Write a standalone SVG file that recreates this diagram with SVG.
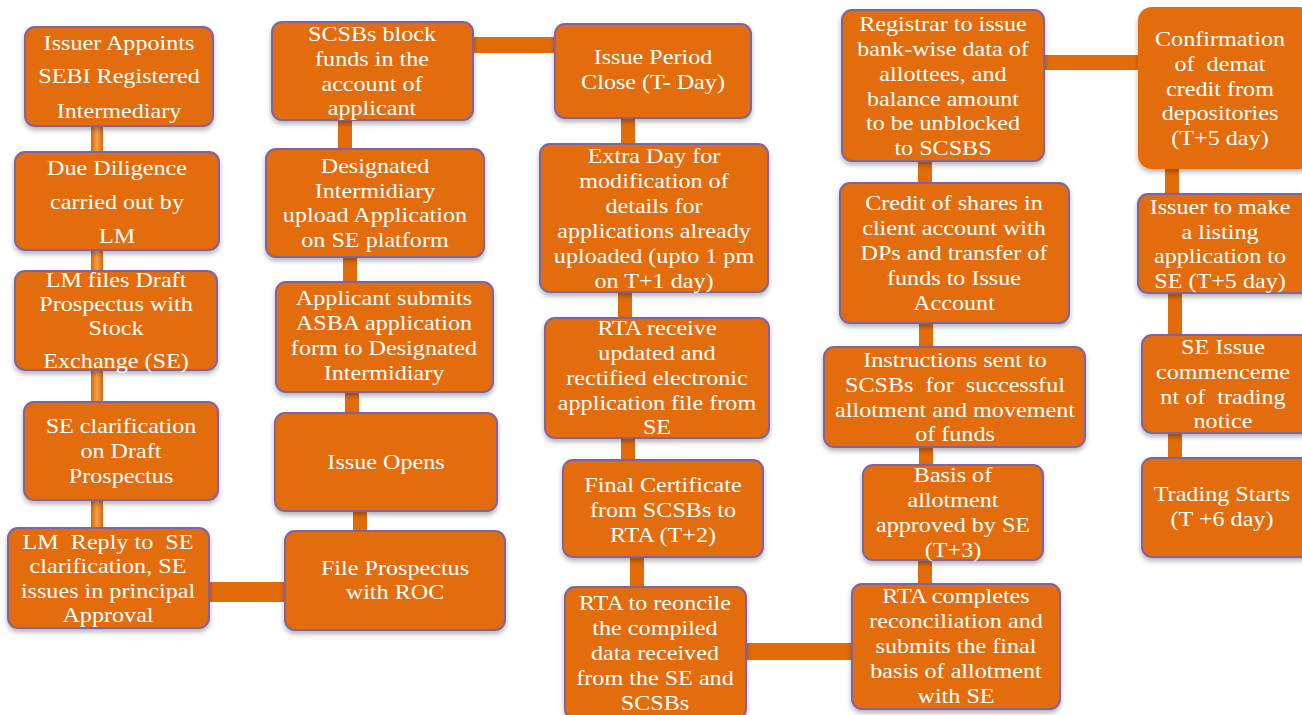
<svg xmlns="http://www.w3.org/2000/svg" width="1302" height="715" viewBox="0 0 1302 715">
<defs>
<linearGradient id="gv" x1="0" y1="0" x2="1" y2="0">
<stop offset="0" stop-color="#D8660C"/><stop offset="0.5" stop-color="#F7A24A"/><stop offset="1" stop-color="#D8660C"/>
</linearGradient>
<filter id="sh" x="-10%" y="-10%" width="120%" height="125%">
<feDropShadow dx="0" dy="3" stdDeviation="2.5" flood-color="#000" flood-opacity="0.3"/>
</filter>
</defs>
<style>
.box{fill:#E36C0A;stroke:#8064A2;stroke-width:2;filter:url(#sh)}
.nb{fill:#E36C0A;stroke:none;filter:url(#sh)}
.c{fill:#E36C0A}
.g{fill:url(#gv)}
text{font-family:"Liberation Serif","Times New Roman",serif;font-size:21px;fill:#fff;text-anchor:middle;white-space:pre}
</style>
<rect width="1302" height="715" fill="#fff"/>
<g id="connectors">
<rect class="g" x="91" y="124" width="12" height="30"/>
<rect class="g" x="91" y="248" width="12" height="25"/>
<rect class="g" x="91" y="368" width="12" height="36"/>
<rect class="g" x="91" y="498" width="12" height="32"/>
<rect class="c" x="207" y="582" width="80" height="20"/>
<rect class="c" x="338" y="118" width="14" height="33"/>
<rect class="c" x="343" y="255" width="14" height="29"/>
<rect class="c" x="345" y="390" width="14" height="25"/>
<rect class="c" x="353" y="509" width="14" height="24"/>
<rect class="c" x="471" y="37" width="86" height="16"/>
<rect class="c" x="621" y="116" width="14" height="30"/>
<rect class="c" x="618" y="290" width="14" height="30"/>
<rect class="c" x="621" y="436" width="14" height="26"/>
<rect class="c" x="630" y="555" width="14" height="34"/>
<rect class="c" x="744" y="643" width="110" height="17"/>
<rect class="c" x="918" y="159" width="14" height="26"/>
<rect class="c" x="919" y="321" width="14" height="28"/>
<rect class="c" x="919" y="445" width="14" height="22"/>
<rect class="c" x="918" y="558" width="14" height="28"/>
<rect class="c" x="1042" y="55" width="98" height="15"/>
<rect class="c" x="1165" y="167" width="14" height="29"/>
<rect class="c" x="1168" y="291" width="14" height="46"/>
<rect class="c" x="1168" y="431" width="14" height="29"/>
</g>
<g id="n1"><rect class="box" x="25" y="27" width="188" height="99" rx="10"/>
<text transform="translate(119,0) scale(1.15,1)"><tspan x="0" y="50">Issuer Appoints</tspan><tspan x="0" y="83">SEBI Registered</tspan><tspan x="0" y="118">Intermediary</tspan></text></g>
<g id="n2"><rect class="box" x="15" y="152" width="204" height="98" rx="10"/>
<text transform="translate(117,0) scale(1.15,1)"><tspan x="0" y="175">Due Diligence</tspan><tspan x="0" y="209">carried out by</tspan><tspan x="0" y="243">LM</tspan></text></g>
<g id="n3"><rect class="box" x="15" y="271" width="202" height="99" rx="10"/>
<text transform="translate(116,0) scale(1.15,1)"><tspan x="0" y="287">LM files Draft</tspan><tspan x="0" y="311">Prospectus with</tspan><tspan x="0" y="335">Stock</tspan><tspan x="0" y="368">Exchange (SE)</tspan></text></g>
<g id="n4"><rect class="box" x="24" y="402" width="194" height="98" rx="10"/>
<text transform="translate(121,0) scale(1.15,1)"><tspan x="0" y="433">SE clarification</tspan><tspan x="0" y="458">on Draft</tspan><tspan x="0" y="483">Prospectus</tspan></text></g>
<g id="n5"><rect class="box" x="8" y="528" width="201" height="100" rx="10"/>
<text transform="translate(108,0) scale(1.15,1)"><tspan x="0" y="549">LM  Reply to  SE</tspan><tspan x="0" y="573">clarification, SE</tspan><tspan x="0" y="598">issues in principal</tspan><tspan x="0" y="622">Approval</tspan></text></g>
<g id="n6"><rect class="box" x="285" y="531" width="220" height="99" rx="10"/>
<text transform="translate(395,0) scale(1.15,1)"><tspan x="0" y="575">File Prospectus</tspan><tspan x="0" y="599">with ROC</tspan></text></g>
<g id="n7"><rect class="box" x="275" y="413" width="222" height="98" rx="10"/>
<text transform="translate(386,0) scale(1.15,1)"><tspan x="0" y="469">Issue Opens</tspan></text></g>
<g id="n8"><rect class="box" x="276" y="282" width="217" height="110" rx="10"/>
<text transform="translate(384,0) scale(1.15,1)"><tspan x="0" y="305">Applicant submits</tspan><tspan x="0" y="330">ASBA application</tspan><tspan x="0" y="355">form to Designated</tspan><tspan x="0" y="380">Intermidiary</tspan></text></g>
<g id="n9"><rect class="box" x="266" y="149" width="218" height="108" rx="10"/>
<text transform="translate(375,0) scale(1.15,1)"><tspan x="0" y="173">Designated</tspan><tspan x="0" y="198">Intermidiary</tspan><tspan x="0" y="222">upload Application</tspan><tspan x="0" y="247">on SE platform</tspan></text></g>
<g id="n10"><rect class="box" x="272" y="22" width="201" height="98" rx="10"/>
<text transform="translate(372,0) scale(1.15,1)"><tspan x="0" y="41">SCSBs block</tspan><tspan x="0" y="66">funds in the</tspan><tspan x="0" y="91">account of</tspan><tspan x="0" y="115">applicant</tspan></text></g>
<g id="n11"><rect class="box" x="555" y="24" width="196" height="94" rx="10"/>
<text transform="translate(653,0) scale(1.15,1)"><tspan x="0" y="64">Issue Period</tspan><tspan x="0" y="89">Close (T- Day)</tspan></text></g>
<g id="n12"><rect class="box" x="540" y="144" width="228" height="148" rx="10"/>
<text transform="translate(654,0) scale(1.15,1)"><tspan x="0" y="163">Extra Day for</tspan><tspan x="0" y="188">modification of</tspan><tspan x="0" y="213">details for</tspan><tspan x="0" y="238">applications already</tspan><tspan x="0" y="263">uploaded (upto 1 pm</tspan><tspan x="0" y="288">on T+1 day)</tspan></text></g>
<g id="n13"><rect class="box" x="545" y="318" width="224" height="120" rx="10"/>
<text transform="translate(657,0) scale(1.15,1)"><tspan x="0" y="335">RTA receive</tspan><tspan x="0" y="360">updated and</tspan><tspan x="0" y="385">rectified electronic</tspan><tspan x="0" y="410">application file from</tspan><tspan x="0" y="434">SE</tspan></text></g>
<g id="n14"><rect class="box" x="563" y="460" width="200" height="97" rx="10"/>
<text transform="translate(663,0) scale(1.15,1)"><tspan x="0" y="492">Final Certificate</tspan><tspan x="0" y="517">from SCSBs to</tspan><tspan x="0" y="542">RTA (T+2)</tspan></text></g>
<g id="n15"><rect class="box" x="565" y="587" width="181" height="132" rx="10"/>
<text transform="translate(655,0) scale(1.15,1)"><tspan x="0" y="610">RTA to reoncile</tspan><tspan x="0" y="635">the compiled</tspan><tspan x="0" y="660">data received</tspan><tspan x="0" y="685">from the SE and</tspan><tspan x="0" y="710">SCSBs</tspan></text></g>
<g id="n16"><rect class="box" x="852" y="584" width="208" height="125" rx="10"/>
<text transform="translate(956,0) scale(1.15,1)"><tspan x="0" y="603">RTA completes</tspan><tspan x="0" y="628">reconciliation and</tspan><tspan x="0" y="653">submits the final</tspan><tspan x="0" y="678">basis of allotment</tspan><tspan x="0" y="703">with SE</tspan></text></g>
<g id="n17"><rect class="box" x="863" y="465" width="180" height="95" rx="10"/>
<text transform="translate(953,0) scale(1.15,1)"><tspan x="0" y="482">Basis of</tspan><tspan x="0" y="507">allotment</tspan><tspan x="0" y="532">approved by SE</tspan><tspan x="0" y="557">(T+3)</tspan></text></g>
<g id="n18"><rect class="box" x="824" y="347" width="261" height="100" rx="10"/>
<text transform="translate(955,0) scale(1.15,1)"><tspan x="0" y="367">Instructions sent to</tspan><tspan x="0" y="392">SCSBs  for  successful</tspan><tspan x="0" y="417">allotment and movement</tspan><tspan x="0" y="441">of funds</tspan></text></g>
<g id="n19"><rect class="box" x="840" y="183" width="229" height="140" rx="10"/>
<text transform="translate(954,0) scale(1.15,1)"><tspan x="0" y="210">Credit of shares in</tspan><tspan x="0" y="235">client account with</tspan><tspan x="0" y="260">DPs and transfer of</tspan><tspan x="0" y="285">funds to Issue</tspan><tspan x="0" y="310">Account</tspan></text></g>
<g id="n20"><rect class="box" x="842" y="10" width="202" height="151" rx="10"/>
<text transform="translate(943,0) scale(1.15,1)"><tspan x="0" y="31">Registrar to issue</tspan><tspan x="0" y="56">bank-wise data of</tspan><tspan x="0" y="81">allottees, and</tspan><tspan x="0" y="106">balance amount</tspan><tspan x="0" y="130">to be unblocked</tspan><tspan x="0" y="155">to SCSBS</tspan></text></g>
<g id="n21"><rect class="nb" x="1138" y="7" width="175" height="162" rx="14"/>
<text transform="translate(1220,0) scale(1.15,1)"><tspan x="0" y="46">Confirmation</tspan><tspan x="0" y="71">of  demat</tspan><tspan x="0" y="96">credit from</tspan><tspan x="0" y="120">depositories</tspan><tspan x="0" y="145">(T+5 day)</tspan></text></g>
<g id="n22"><rect class="box" x="1138" y="194" width="175" height="99" rx="10"/>
<text transform="translate(1220,0) scale(1.15,1)"><tspan x="0" y="214">Issuer to make</tspan><tspan x="0" y="239">a listing</tspan><tspan x="0" y="263">application to</tspan><tspan x="0" y="288">SE (T+5 day)</tspan></text></g>
<g id="n23"><rect class="box" x="1142" y="335" width="171" height="98" rx="10"/>
<text transform="translate(1223,0) scale(1.15,1)"><tspan x="0" y="354">SE Issue</tspan><tspan x="0" y="379">commenceme</tspan><tspan x="0" y="404">nt of  trading</tspan><tspan x="0" y="428">notice</tspan></text></g>
<g id="n24"><rect class="box" x="1142" y="458" width="171" height="99" rx="10"/>
<text transform="translate(1222,0) scale(1.15,1)"><tspan x="0" y="501">Trading Starts</tspan><tspan x="0" y="526">(T +6 day)</tspan></text></g>
</svg>
